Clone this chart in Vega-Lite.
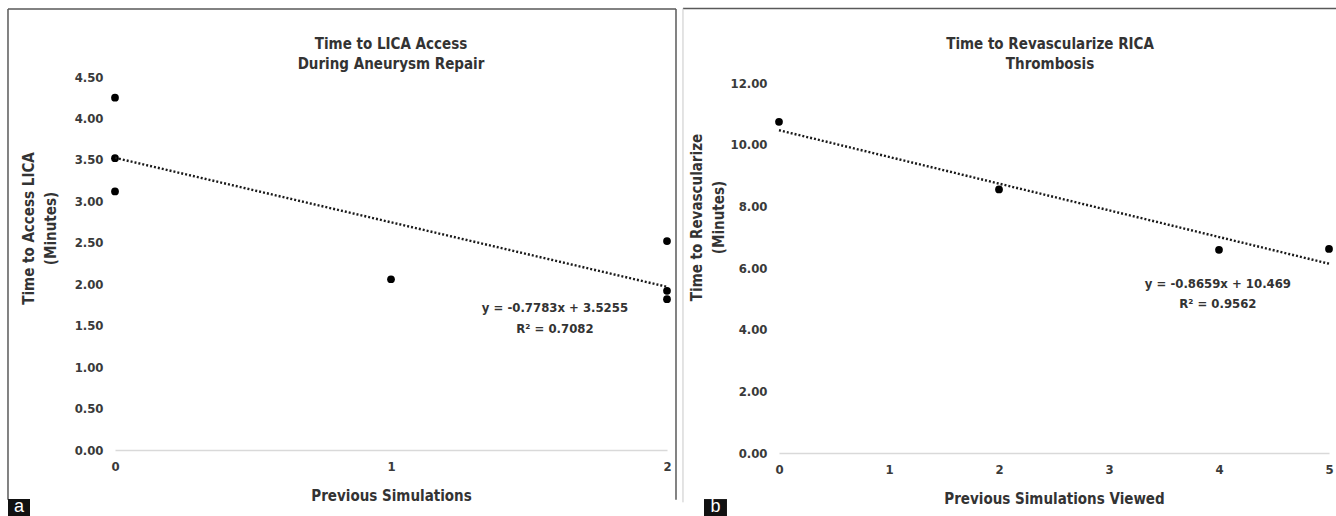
{
  "$schema": "https://vega.github.io/schema/vega-lite/v6.json",
  "padding": {"left": 7, "top": 7, "right": 0, "bottom": 0},
  "background": "white",
  "spacing": 112,
  "bounds": "flush",
  "config": {
    "view": {"stroke": null},
    "font": "Liberation Sans Narrow, DejaVu Sans Condensed, sans-serif",
    "axis": {
      "labelFont": "Liberation Sans Narrow, DejaVu Sans Condensed, sans-serif",
      "labelFontSize": 13, "labelFontWeight": "bold", "labelColor": "#3a3a3a",
      "titleFont": "Liberation Sans Narrow, DejaVu Sans Condensed, sans-serif",
      "titleFontSize": 15, "titleFontWeight": "bold", "titleColor": "#333333",
      "ticks": false, "grid": false, "labelOverlap": false, "labelFlush": false
    },
    "axisX": {"domain": true, "domainColor": "#d9d9d9", "domainWidth": 1.5, "labelPadding": 10, "titlePadding": 15},
    "axisY": {"domain": false, "labelPadding": 12, "titlePadding": 16, "titleLineHeight": 22}
  },
  "datasets": {
    "lica": [
      {"previous_simulations": 0, "minutes": 4.25},
      {"previous_simulations": 0, "minutes": 3.52},
      {"previous_simulations": 0, "minutes": 3.12},
      {"previous_simulations": 1, "minutes": 2.06},
      {"previous_simulations": 2, "minutes": 2.52},
      {"previous_simulations": 2, "minutes": 1.92},
      {"previous_simulations": 2, "minutes": 1.82}
    ],
    "lica_trend": [
      {"previous_simulations": 0, "minutes": 3.5255},
      {"previous_simulations": 2, "minutes": 1.9689}
    ],
    "rica": [
      {"previous_simulations_viewed": 0, "minutes": 10.74},
      {"previous_simulations_viewed": 2, "minutes": 8.55},
      {"previous_simulations_viewed": 4, "minutes": 6.59},
      {"previous_simulations_viewed": 5, "minutes": 6.62}
    ],
    "rica_trend": [
      {"previous_simulations_viewed": 0, "minutes": 10.469},
      {"previous_simulations_viewed": 5, "minutes": 6.1395}
    ],
    "one": [{}]
  },
  "hconcat": [
    {
      "width": 552,
      "height": 373,
      "layer": [
        {
          "data": {"name": "lica"},
          "mark": {"type": "point", "shape": "circle", "filled": true, "color": "#000000", "size": 60, "opacity": 1},
          "encoding": {
            "x": {"field": "previous_simulations", "type": "quantitative",
                  "scale": {"domain": [0, 2], "nice": false, "zero": false},
                  "axis": {"title": "Previous Simulations", "tickCount": 2, "tickMinStep": 1, "labelOverlap": false, "labelFlush": false}},
            "y": {"field": "minutes", "type": "quantitative",
                  "scale": {"domain": [0, 4.5], "nice": false},
                  "axis": {"title": ["Time to Access LICA", "(Minutes)"], "values": [0, 0.5, 1, 1.5, 2, 2.5, 3, 3.5, 4, 4.5], "format": ".2f", "titleY": 151}}
          }
        },
        {
          "data": {"name": "lica_trend"},
          "mark": {"type": "line", "color": "#1a1a1a", "strokeWidth": 2.4, "strokeDash": [2, 2]},
          "encoding": {
            "x": {"field": "previous_simulations", "type": "quantitative"},
            "y": {"field": "minutes", "type": "quantitative"}
          }
        },
        {
          "data": {"name": "one"},
          "mark": {"type": "text", "font": "Liberation Sans Narrow, DejaVu Sans Condensed, sans-serif", "fontSize": 15, "fontWeight": "bold", "color": "#333333", "align": "center", "baseline": "middle", "lineHeight": 20},
          "encoding": {
            "x": {"datum": 1, "type": "quantitative"},
            "y": {"datum": 4.897, "type": "quantitative"},
            "text": {"value": ["Time to LICA Access", "During Aneurysm Repair"]}
          }
        },
        {
          "data": {"name": "one"},
          "mark": {"type": "rule", "color": "#595959", "strokeWidth": 1.5},
          "encoding": {
            "x": {"datum": -0.3877, "type": "quantitative"},
            "x2": {"datum": 2.0326},
            "y": {"datum": 5.3197, "type": "quantitative"}
          }
        },
        {
          "data": {"name": "one"},
          "mark": {"type": "rule", "color": "#595959", "strokeWidth": 1.5},
          "encoding": {
            "x": {"datum": -0.3877, "type": "quantitative"},
            "y": {"datum": 5.3197, "type": "quantitative"},
            "y2": {"datum": -0.6}
          }
        },
        {
          "data": {"name": "one"},
          "mark": {"type": "rule", "color": "#595959", "strokeWidth": 1.5},
          "encoding": {
            "x": {"datum": 2.0326, "type": "quantitative"},
            "y": {"datum": 5.3197, "type": "quantitative"},
            "y2": {"datum": -0.6}
          }
        },
        {
          "data": {"name": "one"},
          "mark": {"type": "text", "font": "Liberation Sans Narrow, DejaVu Sans Condensed, sans-serif", "fontSize": 13, "fontWeight": "bold", "color": "#333333", "align": "center", "baseline": "middle", "lineHeight": 21},
          "encoding": {
            "x": {"datum": 1.594, "type": "quantitative"},
            "y": {"datum": 1.719, "type": "quantitative"},
            "text": {"value": ["y = -0.7783x + 3.5255", "R² = 0.7082"]}
          }
        },
        {
          "data": {"name": "one"},
          "mark": {"type": "rect", "color": "#111111"},
          "encoding": {
            "x": {"datum": -0.3877, "type": "quantitative"},
            "x2": {"datum": -0.308},
            "y": {"datum": -0.591, "type": "quantitative"},
            "y2": {"datum": -0.856}
          }
        },
        {
          "data": {"name": "one"},
          "mark": {"type": "text", "font": "Liberation Sans, sans-serif", "fontSize": 18, "color": "#ffffff", "align": "center", "baseline": "middle"},
          "encoding": {
            "x": {"datum": -0.348, "type": "quantitative"},
            "y": {"datum": -0.69, "type": "quantitative"},
            "text": {"value": "a"}
          }
        }
      ]
    },
    {
      "width": 550,
      "height": 376,
      "layer": [
        {
          "data": {"name": "rica"},
          "mark": {"type": "point", "shape": "circle", "filled": true, "color": "#000000", "size": 60, "opacity": 1},
          "encoding": {
            "x": {"field": "previous_simulations_viewed", "type": "quantitative",
                  "scale": {"domain": [0, 5], "nice": false, "zero": false},
                  "axis": {"title": "Previous Simulations Viewed", "values": [0, 1, 2, 3, 4, 5], "format": "d"}},
            "y": {"field": "minutes", "type": "quantitative",
                  "scale": {"domain": [0, 12.195], "nice": false},
                  "axis": {"title": ["Time to Revascularize", "(Minutes)"], "values": [0, 2, 4, 6, 8, 10, 12], "format": ".2f", "titleY": 140, "titlePadding": 4}}
          }
        },
        {
          "data": {"name": "rica_trend"},
          "mark": {"type": "line", "color": "#1a1a1a", "strokeWidth": 2.4, "strokeDash": [2, 2]},
          "encoding": {
            "x": {"field": "previous_simulations_viewed", "type": "quantitative"},
            "y": {"field": "minutes", "type": "quantitative"}
          }
        },
        {
          "data": {"name": "one"},
          "mark": {"type": "text", "font": "Liberation Sans Narrow, DejaVu Sans Condensed, sans-serif", "fontSize": 15, "fontWeight": "bold", "color": "#333333", "align": "center", "baseline": "middle", "lineHeight": 20},
          "encoding": {
            "x": {"datum": 2.464, "type": "quantitative"},
            "y": {"datum": 13.266, "type": "quantitative"},
            "text": {"value": ["Time to Revascularize RICA", "Thrombosis"]}
          }
        },
        {
          "data": {"name": "one"},
          "mark": {"type": "rule", "color": "#595959", "strokeWidth": 1.5},
          "encoding": {
            "x": {"datum": -0.873, "type": "quantitative"},
            "x2": {"datum": 5.07},
            "y": {"datum": 14.416, "type": "quantitative"}
          }
        },
        {
          "data": {"name": "one"},
          "mark": {"type": "rule", "color": "#c8c8c8", "strokeWidth": 1},
          "encoding": {
            "x": {"datum": -0.873, "type": "quantitative"},
            "y": {"datum": 14.416, "type": "quantitative"},
            "y2": {"datum": -1.6}
          }
        },
        {
          "data": {"name": "one"},
          "mark": {"type": "text", "font": "Liberation Sans Narrow, DejaVu Sans Condensed, sans-serif", "fontSize": 13, "fontWeight": "bold", "color": "#333333", "align": "center", "baseline": "middle", "lineHeight": 20},
          "encoding": {
            "x": {"datum": 3.99, "type": "quantitative"},
            "y": {"datum": 5.487, "type": "quantitative"},
            "text": {"value": ["y = -0.8659x + 10.469", "R² = 0.9562"]}
          }
        },
        {
          "data": {"name": "one"},
          "mark": {"type": "rect", "color": "#111111"},
          "encoding": {
            "x": {"datum": -0.682, "type": "quantitative"},
            "x2": {"datum": -0.473},
            "y": {"datum": -1.494, "type": "quantitative"},
            "y2": {"datum": -2.208}
          }
        },
        {
          "data": {"name": "one"},
          "mark": {"type": "text", "font": "Liberation Sans, sans-serif", "fontSize": 18, "color": "#ffffff", "align": "center", "baseline": "middle"},
          "encoding": {
            "x": {"datum": -0.577, "type": "quantitative"},
            "y": {"datum": -1.74, "type": "quantitative"},
            "text": {"value": "b"}
          }
        }
      ]
    }
  ]
}
